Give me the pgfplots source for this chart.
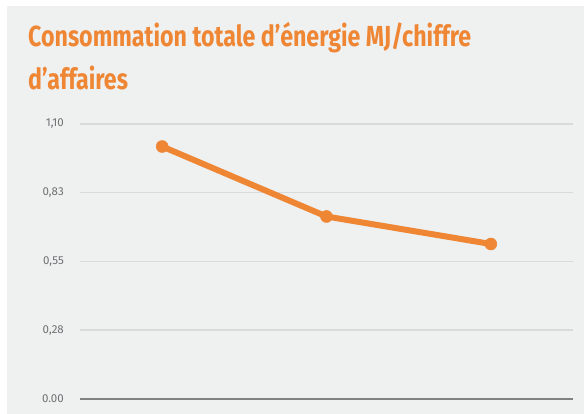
\documentclass[border=0pt]{standalone}
\usepackage{fontspec}
\setmainfont{Fira Sans}
\newfontfamily\titlefont{Fira Sans}[FakeStretch=0.8]
\usepackage{pgfplots}
\pgfplotsset{compat=1.18}
\definecolor{bgcol}{HTML}{EFF0F0}
\definecolor{orng}{HTML}{EE8634}
\definecolor{gridc}{HTML}{D9DADB}
\definecolor{basec}{HTML}{7F8183}
\definecolor{tickc}{HTML}{6E7072}
\begin{document}
\begin{tikzpicture}[x=1pt,y=1pt]
\fill[white] (0,0) rectangle (584,414);
\fill[bgcol] (7,0) rectangle (584,408);
\node[anchor=base west, inner sep=0, text=orng, font=\titlefont\bfseries\fontsize{29}{29}\selectfont] at (28,367) {Consommation totale d’énergie MJ/chiffre};
\node[anchor=base west, inner sep=0, text=orng, font=\titlefont\bfseries\fontsize{29}{29}\selectfont] at (28,324) {d’affaires};
\begin{axis}[
  at={(80pt,15pt)}, anchor=south west,
  width=493pt, height=275pt, scale only axis,
  xmin=-0.5, xmax=2.5, ymin=0, ymax=1.1,
  axis line style={draw=none},
  xtick=\empty,
  ytick={0.275,0.55,0.825,1.1},
  yticklabels={0{,}28,0{,}55,0{,}83,1{,}10},
  extra y ticks={0},
  extra y tick labels={0.00},
  extra y tick style={grid style={basec, line width=2pt}},
  ymajorgrids,
  grid style={gridc, line width=1.5pt},
  major tick length=0pt,
  yticklabel style={anchor=east, inner sep=0pt, xshift=-16pt, text=tickc, font=\fontsize{11.5}{12}\selectfont},
  /pgf/number format/assume math mode=true,
  clip=false,
]
\addplot[orng, line width=6pt, mark=*, mark size=6pt, mark options={solid, fill=orng, draw=orng, line width=0.5pt}]
  coordinates {(0,1.01) (1,0.73) (2,0.62)};
\end{axis}
\end{tikzpicture}
\end{document}
